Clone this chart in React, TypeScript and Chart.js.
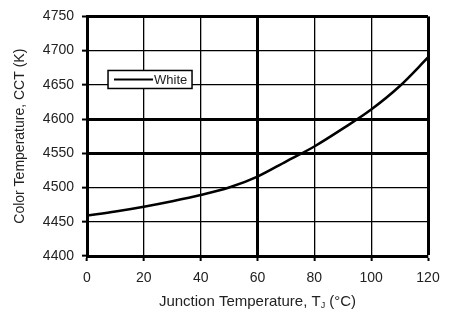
import React, { useEffect, useRef } from "react";
import { Chart, registerables } from "chart.js";

Chart.register(...registerables);

// ---- Data ----
const junctionTemps: number[] = [0, 10, 20, 30, 40, 50, 60, 70, 80, 90, 100, 110, 120];
const cctWhite: number[] = [4459, 4465, 4472, 4480, 4489, 4500, 4516, 4538, 4560, 4586, 4614, 4648, 4690];
const seriesLabel = "White";
const xTitleMain = "Junction Temperature, T";
const xTitleSub = "J";
const xTitleTail = " (\u00B0C)";
const yTitle = "Color Temperature, CCT (K)";
const xTickValues: number[] = [0, 20, 40, 60, 80, 100, 120];
const yTickValues: number[] = [4400, 4450, 4500, 4550, 4600, 4650, 4700, 4750];
const thickX: number[] = [60, 120];
const thickY: number[] = [4550, 4600, 4750];

const FONT = "'Liberation Sans', Arial, sans-serif";
const TEXT = "#222";

const overlayPlugin = {
  id: "overlay",
  afterDatasetsDraw(chart: any) {
    const { ctx, chartArea, scales } = chart;
    ctx.save();
    // legend box
    const bx = scales.x.getPixelForValue(7.4);
    const by = scales.y.getPixelForValue(4671);
    const bw = 84;
    const bh = 18;
    ctx.fillStyle = "#fff";
    ctx.fillRect(bx, by, bw, bh);
    ctx.strokeStyle = "#000";
    ctx.lineWidth = 1.5;
    ctx.strokeRect(bx, by, bw, bh);
    ctx.beginPath();
    ctx.lineWidth = 2;
    ctx.moveTo(bx + 6, by + bh / 2);
    ctx.lineTo(bx + 45, by + bh / 2);
    ctx.stroke();
    ctx.fillStyle = TEXT;
    ctx.font = `13px ${FONT}`;
    ctx.textBaseline = "middle";
    ctx.textAlign = "left";
    ctx.fillText(chart.data.datasets[0].label, bx + 46, by + bh / 2 + 0.5);

    // x title with subscript
    const mainFont = `15px ${FONT}`;
    const subFont = `9px ${FONT}`;
    ctx.font = mainFont;
    const w1 = ctx.measureText(xTitleMain).width;
    const w3 = ctx.measureText(xTitleTail).width;
    ctx.font = subFont;
    const w2 = ctx.measureText(xTitleSub).width;
    const total = w1 + w2 + w3;
    const cx = (chartArea.left + chartArea.right) / 2;
    let x = cx - total / 2;
    const y = 302;
    ctx.textBaseline = "middle";
    ctx.font = mainFont;
    ctx.fillText(xTitleMain, x, y);
    x += w1;
    ctx.font = subFont;
    ctx.fillText(xTitleSub, x, y + 4);
    x += w2;
    ctx.font = mainFont;
    ctx.fillText(xTitleTail, x, y);
    ctx.restore();
  },
};

export default function App() {
  const ref = useRef<HTMLCanvasElement | null>(null);
  useEffect(() => {
    if (!ref.current) return;
    const chart = new Chart(ref.current, {
      type: "line",
      data: {
        datasets: [
          {
            label: seriesLabel,
            data: junctionTemps.map((t, i) => ({ x: t, y: cctWhite[i] })),
            borderColor: "#000",
            borderWidth: 2.5,
            pointRadius: 0,
            tension: 0.35,
            cubicInterpolationMode: "monotone",
            fill: false,
          },
        ],
      },
      options: {
        animation: false,
        responsive: false,
        devicePixelRatio: 1,
        layout: { padding: { left: 0, top: 16, right: 22, bottom: 0 } },
        plugins: { legend: { display: false }, tooltip: { enabled: false } },
        scales: {
          x: {
            type: "linear",
            min: 0,
            max: 120,
            afterBuildTicks: (s: any) => {
              s.ticks = xTickValues.map((v) => ({ value: v }));
            },
            afterFit: (s: any) => {
              s.height = 64;
            },
            ticks: {
              color: TEXT,
              font: { size: 14, family: FONT },
              padding: 9,
              maxRotation: 0,
              callback: (v: any) => String(v),
            },
            grid: {
              color: "#000",
              lineWidth: (c: any) => (thickX.includes(c.tick?.value) ? 3 : 1.3),
              tickLength: 5,
              tickWidth: 2,
              tickColor: "#000",
            },
            border: { color: "#000", width: 3 },
            title: { display: false },
          },
          y: {
            type: "linear",
            min: 4400,
            max: 4750,
            afterBuildTicks: (s: any) => {
              s.ticks = yTickValues.map((v) => ({ value: v }));
            },
            afterFit: (s: any) => {
              s.width = 87;
            },
            ticks: {
              color: TEXT,
              font: { size: 14, family: FONT },
              padding: 8,
              callback: (v: any) => String(v),
            },
            grid: {
              color: "#000",
              lineWidth: (c: any) => (thickY.includes(c.tick?.value) ? 3 : 1.3),
              tickLength: 5,
              tickWidth: 2,
              tickColor: "#000",
            },
            border: { color: "#000", width: 3 },
            title: {
              display: true,
              text: yTitle,
              color: TEXT,
              font: { size: 14, family: FONT },
              padding: { top: 12, bottom: 0 },
            },
          },
        },
      },
      plugins: [overlayPlugin],
    } as any);
    return () => chart.destroy();
  }, []);
  return (
    <div style={{ position: "absolute", left: 0, top: 0, width: 450, height: 320, background: "#fff" }}>
      <canvas ref={ref} width={450} height={320} style={{ width: 450, height: 320, display: "block" }} />
    </div>
  );
}
